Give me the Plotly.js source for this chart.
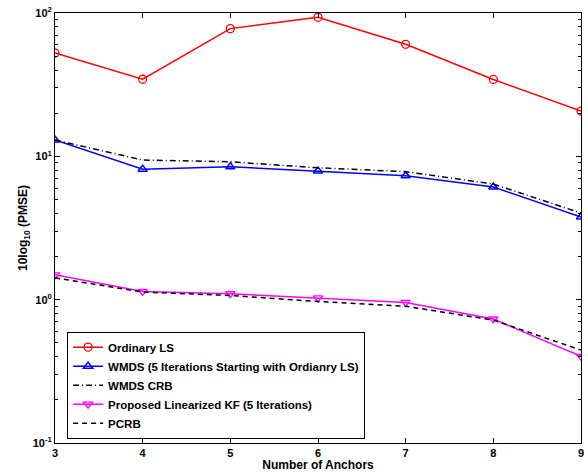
<!DOCTYPE html>
<html>
<head>
<meta charset="utf-8">
<script src="https://cdn.plot.ly/plotly-3.0.1.min.js"></script>
<style>html,body{margin:0;padding:0;background:#fff;}#chart{width:588px;height:472px;}</style>
</head>
<body>
<div id="chart"></div>
<script>
const anchors = [3, 4, 5, 6, 7, 8, 9];
const ordinaryLS = [52.6, 34.5, 77.8, 93.3, 60.5, 34.4, 20.7];
const wmds = [13.0, 8.14, 8.46, 7.9, 7.33, 6.11, 3.77];
const wmdsCRB = [13.0, 9.42, 9.16, 8.32, 7.82, 6.41, 4.02];
const kf = [1.49, 1.14, 1.1, 1.03, 0.957, 0.733, 0.402];
const pcrb = [1.42, 1.13, 1.07, 0.97, 0.90, 0.72, 0.445];
const yTickVals = [0.1, 1, 10, 100];
const yTickText = ['10<sup>-1</sup>', '10<sup>0</sup>', '10<sup>1</sup>', '10<sup>2</sup>'];
const minorVals = [0.2,0.3,0.4,0.5,0.6,0.7,0.8,0.9,2,3,4,5,6,7,8,9,20,30,40,50,60,70,80,90];

const font = {family: 'Liberation Sans, Arial, sans-serif', size: 11, color: '#000', weight: 'bold'};

const traces = [
  {x: anchors, y: ordinaryLS, name: 'Ordinary LS', mode: 'lines+markers',
   line: {color: '#ff0000', width: 1.5}, marker: {symbol: 'circle-open', size: 8, color: '#ff0000', line: {width: 1.3}}},
  {x: anchors, y: wmds, name: 'WMDS (5 Iterations Starting with Ordianry LS)', mode: 'lines+markers',
   line: {color: '#0000ff', width: 1.5}, marker: {symbol: 'triangle-up-open', size: 8, color: '#0000ff', line: {width: 1.5}}},
  {x: anchors, y: wmdsCRB, name: 'WMDS CRB', mode: 'lines',
   line: {color: '#000', width: 1.5, dash: '6px,3px,1px,3px'}},
  {x: anchors, y: kf, name: 'Proposed Linearized KF (5 Iterations)', mode: 'lines+markers',
   line: {color: '#ff00ff', width: 1.5}, marker: {symbol: 'triangle-down-open', size: 8, color: '#ff00ff', line: {width: 1.3}}},
  {x: anchors, y: pcrb, name: 'PCRB', mode: 'lines',
   line: {color: '#000', width: 1.5, dash: '5px,4px'}}
];

const layout = {
  width: 588, height: 472,
  margin: {l: 55, r: 7, t: 13, b: 29},
  paper_bgcolor: '#fff', plot_bgcolor: '#fff',
  font: font,
  showlegend: true,
  legend: {x: 0.023, y: 0.259, xanchor: 'left', yanchor: 'top',
    bordercolor: '#000', borderwidth: 1, bgcolor: '#fff',
    font: {family: 'Liberation Sans, Arial, sans-serif', size: 11.5, color: '#000', weight: 'bold'},
    tracegroupgap: 0, itemwidth: 30},
  xaxis: {range: [3, 9], tickvals: anchors, ticks: 'inside', ticklen: 5, tickcolor: '#000',
    showline: true, linecolor: '#000', linewidth: 1, mirror: 'ticks', showgrid: false, zeroline: false,
    tickfont: font,
    title: {text: 'Number of Anchors', font: {family: 'Liberation Sans, Arial, sans-serif', size: 12, color: '#000', weight: 'bold'}, standoff: 2}},
  yaxis: {type: 'log', range: [-1, 2], tickvals: yTickVals, ticktext: yTickText, ticks: 'inside', ticklen: 5,
    tickcolor: '#000', showline: true, linecolor: '#000', linewidth: 1, mirror: 'ticks', showgrid: false, zeroline: false,
    tickfont: font,
    minor: {tickvals: minorVals, ticks: 'inside', ticklen: 3, tickcolor: '#000', showgrid: false},
    title: {text: '10log<sub>10</sub> (PMSE)', font: {family: 'Liberation Sans, Arial, sans-serif', size: 12, color: '#000', weight: 'bold'}, standoff: 2}}
};

Plotly.newPlot('chart', traces, layout, {displayModeBar: false, staticPlot: true});
</script>
</body>
</html>
